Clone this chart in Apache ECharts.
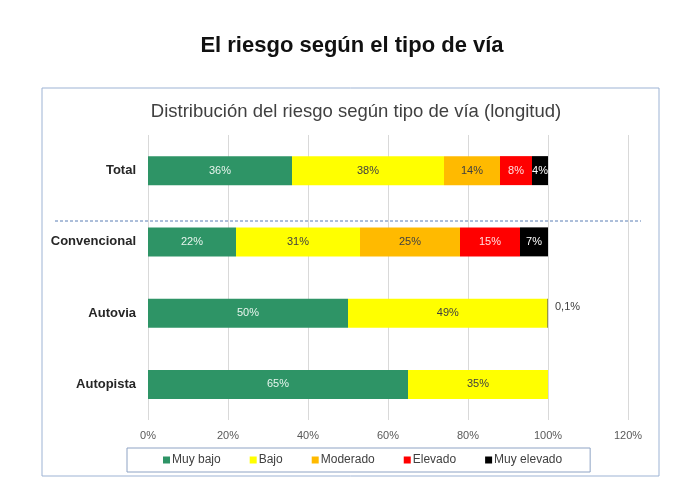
<!DOCTYPE html>
<html>
<head>
<meta charset="utf-8">
<script src="https://cdn.jsdelivr.net/npm/echarts@6/dist/echarts.min.js"></script>
<style>
html, body { margin: 0; padding: 0; background: #fff; }
#main { width: 680px; height: 493px; }
</style>
</head>
<body>
<div id="main"></div>
<script>
var categorias = ['Total', 'Convencional', 'Autovia', 'Autopista'];
var muyBajo = [36, 22, 50, 65];
var bajo = [38, 31, 49.9, 35];
var moderado = [14, 25, 0, 0];
var elevado = [8, 15, 0, 0];
var muyElevado = [4, 7, 0.1, 0];
var ticks = [0, 20, 40, 60, 80, 100, 120];

var dom = document.getElementById('main');
var myChart = echarts.init(dom);

function etiqueta(p) {
    var v = p.value;
    if (!v) return '';
    if (v < 1) return String(v).replace('.', ',') + '%';
    return Math.floor(v) + '%';
}

function serie(nombre, datos, color, colorTexto) {
    return {
        name: nombre,
        type: 'bar',
        stack: 'total',
        barWidth: 29,
        data: datos,
        itemStyle: { color: color },
        label: {
            show: true,
            position: 'inside',
            color: colorTexto,
            fontSize: 11,
            fontFamily: 'Liberation Sans',
            formatter: etiqueta
        }
    };
}

var series = [
    serie('Muy bajo', muyBajo, '#2e9466', '#e8f5ee'),
    serie('Bajo', bajo, '#ffff00', '#404040'),
    serie('Moderado', moderado, '#ffba00', '#404040'),
    serie('Elevado', elevado, '#ff0000', '#ffe0e0'),
    serie('Muy elevado', muyElevado, '#000000', '#ffffff')
];
// la etiqueta 0,1% de Autovia va fuera, a la derecha
series[4].data = muyElevado.map(function (v, i) {
    if (v > 0 && v < 1) {
        return { value: v, label: { position: 'right', color: '#404040', offset: [2, -6] } };
    }
    return v;
});

var option = {
    backgroundColor: '#fff',
    textStyle: { fontFamily: 'Liberation Sans' },
    title: [{
        text: 'El riesgo según el tipo de vía',
        left: 347,
        textAlign: 'center',
        top: 30,
        textStyle: { fontSize: 22, fontWeight: 'bold', color: '#111', fontFamily: 'Liberation Sans' }
    }, {
        text: 'Distribución del riesgo según tipo de vía (longitud)',
        left: 351,
        textAlign: 'center',
        top: 97,
        textStyle: { fontSize: 18.5, fontWeight: 'normal', color: '#404040', fontFamily: 'Liberation Sans' }
    }],
    graphic: [{
        type: 'rect',
        shape: { x: 42, y: 88, width: 617, height: 388 },
        style: { fill: 'none', stroke: '#9db3d4', lineWidth: 1 },
        silent: true
    }, {
        type: 'line',
        shape: { x1: 55, y1: 221, x2: 641, y2: 221 },
        style: { stroke: '#5b7fb5', lineWidth: 1, lineDash: [3, 2] },
        silent: true,
        z: 10
    }],
    legend: {
        left: 127,
        top: 448,
        itemWidth: 7,
        itemHeight: 7,
        itemGap: 29,
        icon: 'rect',
        padding: [6, 28, 6, 36],
        borderColor: '#8ea3c4',
        borderWidth: 1,
        textStyle: { fontSize: 12, color: '#404040', fontFamily: 'Liberation Sans', padding: [0, 0, 0, -3] },
        data: ['Muy bajo', 'Bajo', 'Moderado', 'Elevado', 'Muy elevado']
    },
    grid: { left: 148, right: 52, top: 135, bottom: 73 },
    xAxis: {
        type: 'value',
        min: ticks[0],
        max: ticks[ticks.length - 1],
        interval: 20,
        axisLabel: { formatter: '{value}%', color: '#595959', fontSize: 11, margin: 10 },
        axisLine: { show: false },
        axisTick: { show: false },
        splitLine: { lineStyle: { color: '#d9d9d9' } }
    },
    yAxis: {
        type: 'category',
        inverse: true,
        data: categorias,
        axisLine: { show: false },
        axisTick: { show: false },
        axisLabel: { color: '#262626', fontSize: 13, fontWeight: 'bold', margin: 12 }
    },
    series: series
};

if (option && typeof option === 'object') {
    myChart.setOption(option, true);
}
</script>
</body>
</html>
